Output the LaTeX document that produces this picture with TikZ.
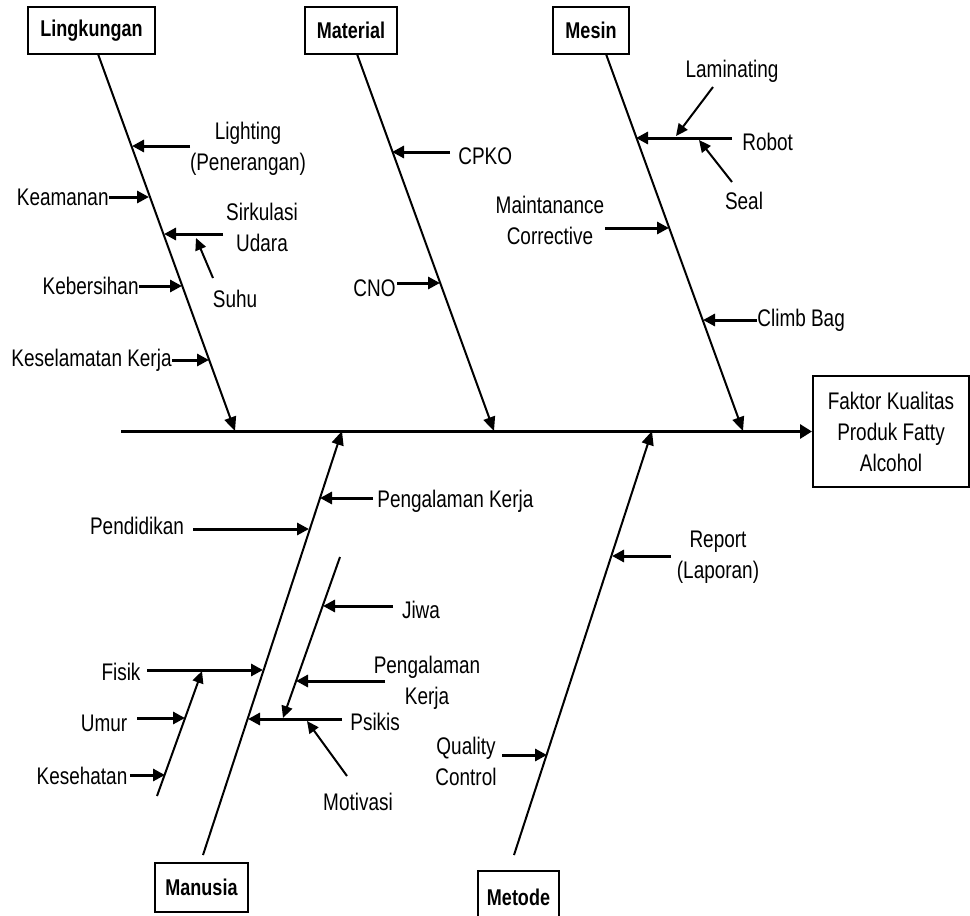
\documentclass[tikz,border=0pt]{standalone}
\usepackage{fontspec}
\setmainfont{Liberation Sans}[FakeStretch=0.79]
\usetikzlibrary{arrows.meta}
\begin{document}
\begin{tikzpicture}[x=0.5pt,y=-0.5pt,
  lbl/.style={inner sep=0pt, font=\fontsize{12}{15.5}\selectfont, align=center},
  cat/.style={draw, line width=1pt, inner sep=0pt, font=\bfseries\fontsize{11.4}{13}\selectfont, minimum height=23.5pt},
  bone/.style={line width=1pt, -{Triangle[length=7pt,width=6pt]}},
  spine/.style={line width=1.5pt, -{Triangle[length=6pt,width=7pt]}},
  sub/.style={line width=1.5pt, -{Triangle[length=6pt,width=6pt]}},
  diag/.style={line width=1pt, -{Triangle[length=6pt,width=5.5pt]}},
  twig/.style={line width=1pt}]
\useasboundingbox (0,0) rectangle (970,916);
\fill[white] (0,0) rectangle (970,916);

% effect box and spine
\node[draw, line width=1pt, inner sep=0pt, minimum width=78pt, minimum height=55.5pt, lbl] (F) at (891,431.5) {Faktor Kualitas\\Produk Fatty\\Alcohol};
\coordinate (sp) at (121,431.5);
\draw[spine] (sp) -- (F.west);

% ===== Lingkungan =====
\node[cat, minimum width=63.5pt] (L) at (91.5,30.5) {Lingkungan};
\coordinate (Ls) at (98,54); \coordinate (Le) at (235,431);
\draw[bone] (Ls) -- (Le);
\node[lbl] (lighting) at (248,149) {Lighting\\(Penerangan)};
\coordinate (lightA) at (190,146); \coordinate (lightB) at (132,146);
\draw[sub] (lightA) -- (lightB);
\node[lbl, anchor=east] (keamanan) at (109,197) {Keamanan};
\coordinate (keamB) at (149,197);
\draw[sub] (keamanan.east) -- (keamB);
\node[lbl] (sirkulasi) at (262,227) {Sirkulasi\\Udara};
\coordinate (sirkA) at (223,234); \coordinate (sirkB) at (164,234);
\draw[sub] (sirkA) -- (sirkB);
\node[lbl] (suhu) at (235,299) {Suhu};
\coordinate (suhuA) at (213,278); \coordinate (suhuB) at (196,238);
\draw[diag] (suhuA) -- (suhuB);
\node[lbl, anchor=east] (kebersihan) at (139,286) {Kebersihan};
\coordinate (kebB) at (182,286);
\draw[sub] (kebersihan.east) -- (kebB);
\node[lbl, anchor=east] (keselamatan) at (172,360) {Keselamatan Kerja};
\coordinate (kesB) at (209,360);
\draw[sub] (keselamatan.east) -- (kesB);

% ===== Material =====
\node[cat, minimum width=46pt] (M) at (351,30.5) {Material};
\coordinate (Ms) at (357,54); \coordinate (Me) at (494,431);
\draw[bone] (Ms) -- (Me);
\node[lbl, anchor=west] (cpko) at (458,156) {CPKO};
\coordinate (cpkoA) at (450,152); \coordinate (cpkoB) at (392,152);
\draw[sub] (cpkoA) -- (cpkoB);
\node[lbl, anchor=east] (cno) at (396,288) {CNO};
\coordinate (cnoA) at (397,283); \coordinate (cnoB) at (440,283);
\draw[sub] (cnoA) -- (cnoB);

% ===== Mesin =====
\node[cat, minimum width=38pt] (S) at (591,30.5) {Mesin};
\coordinate (Ss) at (606,54); \coordinate (Se) at (743,431);
\draw[bone] (Ss) -- (Se);
\node[lbl, anchor=west] (robot) at (742,142) {Robot};
\coordinate (robA) at (732,138); \coordinate (robB) at (636,138);
\draw[sub] (robA) -- (robB);
\node[lbl] (laminating) at (732,71) {Laminating};
\coordinate (lamA) at (713,87); \coordinate (lamB) at (676,136);
\draw[diag] (lamA) -- (lamB);
\node[lbl] (seal) at (744,201) {Seal};
\coordinate (sealA) at (732,182); \coordinate (sealB) at (699,140);
\draw[diag] (sealA) -- (sealB);
\node[lbl] (maint) at (550,220) {Maintanance\\Corrective};
\coordinate (maintA) at (605,228); \coordinate (maintB) at (669,228);
\draw[sub] (maintA) -- (maintB);
\node[lbl, anchor=west] (climb) at (757,320) {Climb Bag};
\coordinate (climbB) at (703,320);
\draw[sub] (climb.west) -- (climbB);

% ===== Manusia =====
\node[cat, minimum width=46.5pt, minimum height=24.5pt] (U) at (201.5,887.5) {Manusia};
\coordinate (Us) at (203,855); \coordinate (Ue) at (342,431);
\draw[bone] (Us) -- (Ue);
\node[lbl, anchor=west] (pk1) at (377,501) {Pengalaman Kerja};
\coordinate (pk1A) at (373,498); \coordinate (pk1B) at (320,498);
\draw[sub] (pk1A) -- (pk1B);
\node[lbl] (pendidikan) at (137,526) {Pendidikan};
\coordinate (pendA) at (193,529); \coordinate (pendB) at (309,529);
\draw[sub] (pendA) -- (pendB);
% Fisik branch
\node[lbl] (fisik) at (121,672) {Fisik};
\coordinate (fisA) at (147,670); \coordinate (fisB) at (263,670);
\draw[sub] (fisA) -- (fisB);
\coordinate (fsubA) at (157,796); \coordinate (fsubB) at (202,671);
\draw[diag] (fsubA) -- (fsubB);
\node[lbl] (umur) at (104,723) {Umur};
\coordinate (umurA) at (137,718); \coordinate (umurB) at (185,718);
\draw[sub] (umurA) -- (umurB);
\node[lbl] (kesehatan) at (82,776) {Kesehatan};
\coordinate (kesA) at (130,775); \coordinate (kesehB) at (165,775);
\draw[sub] (kesA) -- (kesehB);
% Psikis branch
\node[lbl, anchor=west] (psikis) at (350,722) {Psikis};
\coordinate (psA) at (342,719); \coordinate (psB) at (248,719);
\draw[sub] (psA) -- (psB);
\coordinate (psubA) at (340,557); \coordinate (psubB) at (283,718);
\draw[diag] (psubA) -- (psubB);
\node[lbl] (jiwa) at (421,610) {Jiwa};
\coordinate (jiwaA) at (393,606); \coordinate (jiwaB) at (323,606);
\draw[sub] (jiwaA) -- (jiwaB);
\node[lbl] (pk2) at (427,683) {Pengalaman\\Kerja};
\coordinate (pk2A) at (385,681); \coordinate (pk2B) at (296,681);
\draw[sub] (pk2A) -- (pk2B);
\node[lbl] (motivasi) at (358,802) {Motivasi};
\coordinate (motA) at (347,776); \coordinate (motB) at (307,721);
\draw[diag] (motA) -- (motB);

% ===== Metode =====
\node[cat, minimum width=40.5pt, minimum height=26pt] (T) at (518.5,897) {Metode};
\coordinate (Ts) at (514,855); \coordinate (Te) at (652,431);
\draw[bone] (Ts) -- (Te);
\node[lbl] (report) at (718,557) {Report\\(Laporan)};
\coordinate (repA) at (671,556); \coordinate (repB) at (612,556);
\draw[sub] (repA) -- (repB);
\node[lbl] (qc) at (466,761) {Quality\\Control};
\coordinate (qcA) at (502,755); \coordinate (qcB) at (547,755);
\draw[sub] (qcA) -- (qcB);
\end{tikzpicture}
\end{document}
